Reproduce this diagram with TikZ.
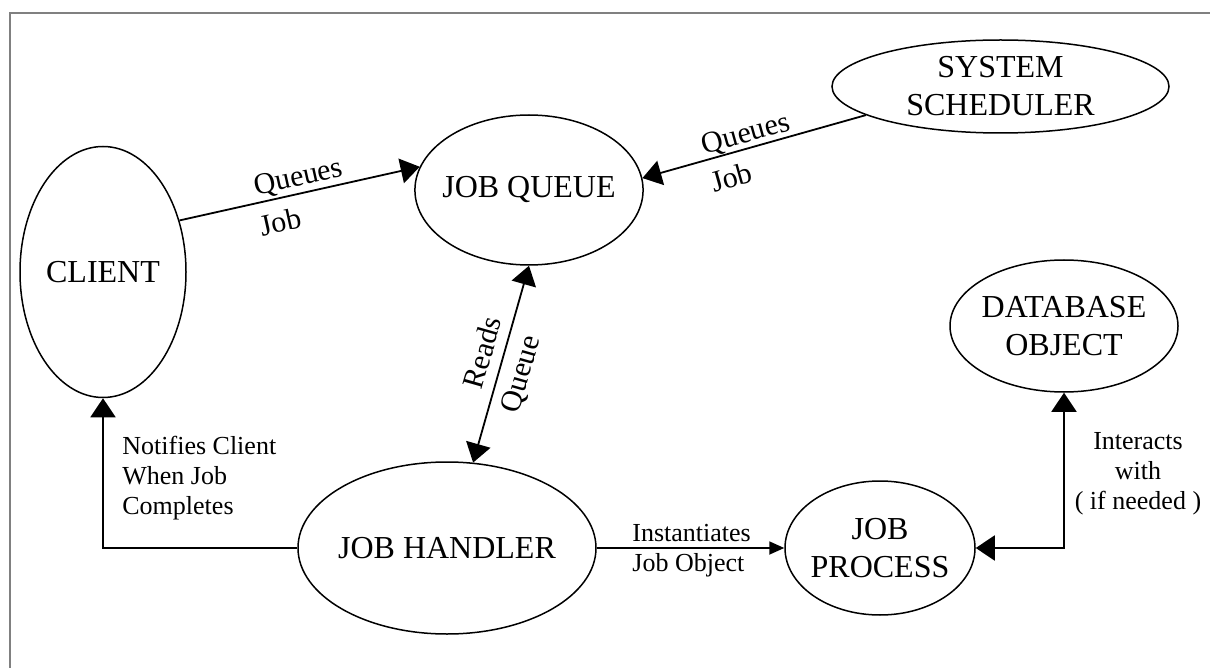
\documentclass[tikz,border=0pt]{standalone}
\usepackage{fontspec}
\setmainfont{Liberation Serif}
\usetikzlibrary{arrows.meta,shapes.geometric}
\begin{document}
\begin{tikzpicture}[x=0.5pt,y=-0.5pt,
  >={Triangle[length=9.5pt,width=12.5pt]},
  state/.style={ellipse,draw,line width=0.75pt,inner xsep=-3pt,inner ysep=0pt,
    font=\fontsize{16}{19}\selectfont,align=center},
  conn/.style={line width=0.9pt},
  lbl/.style={font=\fontsize{13}{15}\selectfont,inner sep=0pt},
  slbl/.style={font=\fontsize{15}{18}\selectfont,sloped}]
\useasboundingbox (0,0) rectangle (1210,668);
\fill[white] (0,0) rectangle (1210,668);
\draw[gray,line width=1pt] (10,668) -- (10,13) -- (1210,13);

\node[state,minimum width=83pt,minimum height=125.5pt] (client) at (103,272) {CLIENT};
\node[state,minimum width=111pt,minimum height=75pt] (queue) at (529,190) {JOB QUEUE};
\node[state,minimum width=168.5pt,minimum height=46.5pt] (sched) at (1000.5,86.5) {SYSTEM\\SCHEDULER};
\node[state,minimum width=114pt,minimum height=66pt] (db) at (1064,326) {DATABASE\\OBJECT};
\node[state,minimum width=149pt,minimum height=86pt] (handler) at (447,548) {JOB HANDLER};
\node[state,minimum width=95pt,minimum height=67pt] (process) at (880,548) {JOB\\PROCESS};

% Client queues job
\draw[conn,->] (client.34.5) -- (queue.168.2)
  node[slbl,pos=0.51,above,inner sep=1pt] (q1) {Queues}
  node[slbl,pos=0.40,below,inner sep=6pt] (j1) {Job};

% Scheduler queues job
\draw[conn,<-] (queue.6.3) -- (sched.192.3)
  node[slbl,pos=0.48,above,inner sep=0pt] (q2) {Queues}
  node[slbl,pos=0.37,below,inner sep=6pt] (j2) {Job};

% Handler reads queue
\draw[conn,<->] (handler.73.8) -- (queue.south)
  node[slbl,pos=0.53,above,inner sep=5pt] (r1) {Reads}
  node[slbl,pos=0.48,below,inner sep=5pt] (r2) {Queue};

% Notifies client
\draw[conn,->] (handler.west) -| (client.south);
\node[lbl,anchor=north west,align=left] (notif) at (122,436) {Notifies Client\\When Job\\Completes};

% Instantiates
\draw[conn,-{Triangle[length=7.5pt,width=6.5pt]}] (handler.east) -- (process.west);
\node[lbl,anchor=north west,align=left] (inst) at (632,524) {Instantiates\\Job Object};

% Interacts
\draw[conn,<->] (process.east) -| (db.south);
\node[lbl,anchor=north,align=center] (inter) at (1138,432) {Interacts\\with\\( if needed )};
\end{tikzpicture}
\end{document}
